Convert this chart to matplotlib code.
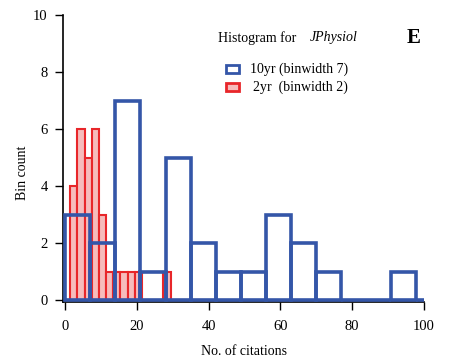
import matplotlib
matplotlib.use('Agg')
import matplotlib.pyplot as plt
from matplotlib.patches import Rectangle
import numpy as np

plt.rcParams['font.family'] = ['Liberation Serif', 'DejaVu Serif']

# 10yr histogram, binwidth 7, starting at 0
blue_start = 0
blue_width = 7
blue_counts = [3, 2, 7, 1, 5, 2, 1, 1, 3, 2, 1, 0, 0, 1, 0]

# 2yr histogram, binwidth 2
red_start = 1.4
red_width = 2
red_counts = [4, 6, 5, 6, 3, 1, 1, 1, 1, 1, 0, 0, 0, 1, 0, 0, 0, 0, 0, 0]

x_ticks = [0, 20, 40, 60, 80, 100]
y_ticks = [0, 2, 4, 6, 8, 10]

BLUE = '#3456a8'
RED = '#e8262a'
PINK = '#f6bcbc'

fig = plt.figure(figsize=(4.59, 3.6), dpi=100)
ax = fig.add_axes([63 / 459, 1 - 302 / 360, (425 - 63) / 459, (302 - 15) / 360])

red_left = red_start + red_width * np.arange(len(red_counts))
ax.bar(red_left, red_counts, width=red_width, align='edge',
       facecolor=PINK, edgecolor=RED, linewidth=1.5, zorder=3)

blue_left = blue_start + blue_width * np.arange(len(blue_counts))
blue_w = [blue_width] * (len(blue_counts) - 1) + [100 - blue_left[-1]]
ax.bar(blue_left, blue_counts, width=blue_w, align='edge',
       fill=False, edgecolor=BLUE, linewidth=2.6, zorder=4)

ax.set_xlim(-0.6, 100.4)
ax.set_ylim(-0.07, 10)
ax.set_xticks(x_ticks)
ax.set_yticks(y_ticks)
for s in ['top', 'right']:
    ax.spines[s].set_visible(False)
for s in ['left', 'bottom']:
    ax.spines[s].set_linewidth(1.2)
ax.spines['bottom'].set_bounds(-0.6, 100)
ax.tick_params(direction='out', length=6, width=1.0, labelsize=10.5)
ax.tick_params(axis='x', pad=7)
ax.tick_params(axis='y', pad=5)

ax.set_xlabel('No. of citations', fontsize=10)
ax.xaxis.set_label_coords(0.5, -0.15)
ax.set_ylabel('Bin count', fontsize=10)
ax.yaxis.set_label_coords(-0.095, 0.45)

fig.text(218 / 459, 1 - 38 / 360, 'Histogram for', fontsize=10, va='center')
fig.text(310 / 459, 1 - 38 / 360, 'JPhysiol', fontsize=10, style='italic', va='center')
fig.text(407 / 459, 1 - 38 / 360, 'E', fontsize=15, weight='bold', va='center')

fig.patches.append(Rectangle((226 / 459, 1 - 73 / 360), 13 / 459, 8 / 360,
                             transform=fig.transFigure, facecolor='white',
                             edgecolor=BLUE, linewidth=2.0))
fig.patches.append(Rectangle((226 / 459, 1 - 91 / 360), 13 / 459, 8 / 360,
                             transform=fig.transFigure, facecolor=PINK,
                             edgecolor=RED, linewidth=2.0))
fig.text(250 / 459, 1 - 69 / 360, '10yr (binwidth 7)', fontsize=10, va='center')
fig.text(253 / 459, 1 - 87 / 360, '2yr  (binwidth 2)', fontsize=10, va='center')

fig.savefig('out.png', dpi=100)
